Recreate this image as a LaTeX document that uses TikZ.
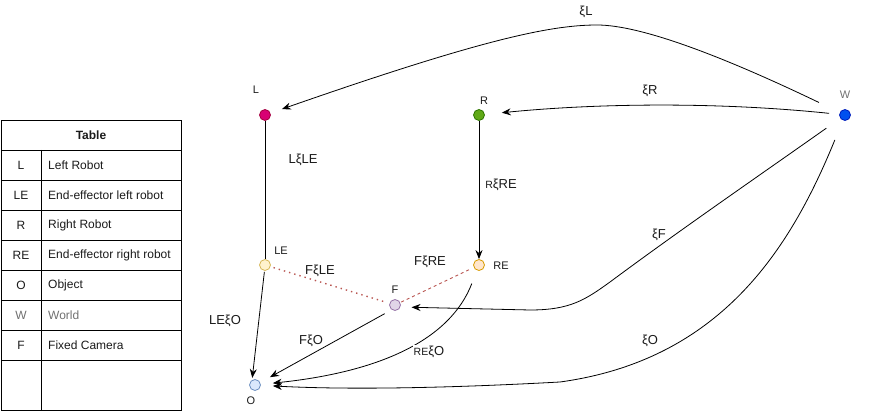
\documentclass[tikz,border=0pt]{standalone}
\usepackage{fontspec}
\setmainfont{Liberation Sans}
\usetikzlibrary{arrows.meta}
\definecolor{cL}{HTML}{D80073}\definecolor{sL}{HTML}{A50040}
\definecolor{cR}{HTML}{60A917}\definecolor{sR}{HTML}{2D7600}
\definecolor{cW}{HTML}{0050EF}\definecolor{sW}{HTML}{001DBC}
\definecolor{cLE}{HTML}{FFF2CC}\definecolor{sLE}{HTML}{D6B656}
\definecolor{cRE}{HTML}{FFE6CC}\definecolor{sRE}{HTML}{D79B00}
\definecolor{cF}{HTML}{E1D5E7}\definecolor{sF}{HTML}{9673A6}
\definecolor{cO}{HTML}{DAE8FC}\definecolor{sO}{HTML}{6C8EBF}
\definecolor{redl}{HTML}{B85450}
\definecolor{txt}{HTML}{1A1A1A}
\definecolor{gtxt}{HTML}{707070}
\newcommand{\smalltxt}[1]{{\fontsize{10.5}{13}\selectfont #1}}
\begin{document}
\begin{tikzpicture}[x=1pt,y=-1pt,
  dot/.style={circle, minimum size=11pt, inner sep=0pt, line width=0.8pt},
  nlbl/.style={font=\fontsize{11}{13}\selectfont, inner sep=0pt, text=txt},
  elbl/.style={font=\fontsize{13}{15}\selectfont, inner sep=0pt, text=txt},
  ttxt/.style={font=\fontsize{12}{14}\selectfont, inner sep=0pt, text=txt},
  conn/.style={line width=0.8pt},
  arr/.style={conn, -{Stealth[length=9pt,width=7pt]}},
  tline/.style={line width=0.8pt}
]
\useasboundingbox (0,0) rectangle (876,411);

% table
\draw[tline] (1,120) rectangle (181,410);
\foreach \yy in {150,180,210,240,270,300,330,360} \draw[tline] (1,\yy) -- (181,\yy);
\draw[tline] (41,150) -- (41,410);
\node[ttxt, font=\fontsize{12}{14}\selectfont\bfseries] (th) at (91,135) {Table};
\node[ttxt] (t1a) at (21,165) {L};  \node[ttxt, anchor=west] (t1b) at (48,165) {Left Robot};
\node[ttxt] (t2a) at (21,195) {LE}; \node[ttxt, anchor=west] (t2b) at (48,195) {End-effector left robot};
\node[ttxt] (t3a) at (21,225) {R};  \node[ttxt, anchor=west] (t3b) at (48,225) {Right Robot};
\node[ttxt] (t4a) at (21,255) {RE}; \node[ttxt, anchor=west] (t4b) at (48,255) {End-effector right robot};
\node[ttxt] (t5a) at (21,285) {O};  \node[ttxt, anchor=west] (t5b) at (48,285) {Object};
\node[ttxt, text=gtxt] (t6a) at (21,315) {W};  \node[ttxt, anchor=west, text=gtxt] (t6b) at (48,315) {World};
\node[ttxt] (t7a) at (21,345) {F};  \node[ttxt, anchor=west] (t7b) at (48,345) {Fixed Camera};

% nodes
\node[dot, fill=cL, draw=sL] (L) at (265,115) {};
\node[dot, fill=cR, draw=sR] (R) at (479,115) {};
\node[dot, fill=cW, draw=sW] (W) at (845,115) {};
\node[dot, fill=cLE, draw=sLE] (LE) at (265,265) {};
\node[dot, fill=cRE, draw=sRE] (RE) at (479,265) {};
\node[dot, fill=cF, draw=sF] (F) at (395,305) {};
\node[dot, fill=cO, draw=sO] (O) at (255,385) {};

% node labels
\node[nlbl] (lL) at (256,90) {L};
\node[nlbl] (lR) at (484,101) {R};
\node[nlbl, text=gtxt] (lW) at (845,95) {W};
\node[nlbl] (lLE) at (281,251) {LE};
\node[nlbl] (lRE) at (501,266) {RE};
\node[nlbl] (lF) at (395,290) {F};
\node[nlbl] (lO) at (251,401) {O};

% connectors
\draw[conn] (L) -- (LE);
\draw[arr] (R) -- (RE);
\draw[arr, shorten <=23pt, shorten >=12pt] (W) .. controls (720,55) and (640,25) .. (597,25)
   .. controls (550,25) and (480,40) .. (L);
\draw[arr, shorten <=10pt, shorten >=17pt] (W) .. controls (720,102) and (600,103) .. (R);
\draw[arr, shorten <=17pt, shorten >=11pt] (W) .. controls (760,175) and (680,230) .. (610,282)
   .. controls (585,300) and (570,310) .. (530,310) -- (F.-20);
\draw[arr, shorten <=21pt, shorten >=12pt] (W) .. controls (790,250) and (720,360) .. (560,382)
   .. controls (450,388) and (350,390) .. (O);
\draw[arr, shorten <=14pt, shorten >=12pt] (RE) .. controls (450,340) and (380,372) .. (O);
\draw[arr, shorten <=8pt, shorten >=11pt] (F.-125) -- (O.25);
\draw[arr, shorten <=1pt, shorten >=2pt] (LE.-95) -- (O.120);
\draw[redl, line width=1.4pt, dash pattern=on 1.4pt off 4pt, shorten <=3pt, shorten >=3pt] (LE) -- (F);
\draw[redl, line width=0.9pt, dash pattern=on 3pt off 3pt, shorten <=1pt, shorten >=5pt] (F) -- (RE);

% edge labels
\node[elbl] (eLLE) at (303,160) {LξLE};
\node[elbl] (eRRE) at (501,185) {\smalltxt{R}ξRE};
\node[elbl] (exL) at (586,12) {ξL};
\node[elbl] (exR) at (650,91) {ξR};
\node[elbl] (exF) at (659,235) {ξF};
\node[elbl] (exO) at (650,341) {ξO};
\node[elbl] (eLEO) at (225,321) {LEξO};
\node[elbl] (eFLE) at (320,271) {FξLE};
\node[elbl] (eFRE) at (430,262) {FξRE};
\node[elbl] (eFO) at (311,341) {FξO};
\node[elbl, fill=white, inner sep=1pt] (eREO) at (429,352) {\smalltxt{RE}ξO};
\end{tikzpicture}
\end{document}
